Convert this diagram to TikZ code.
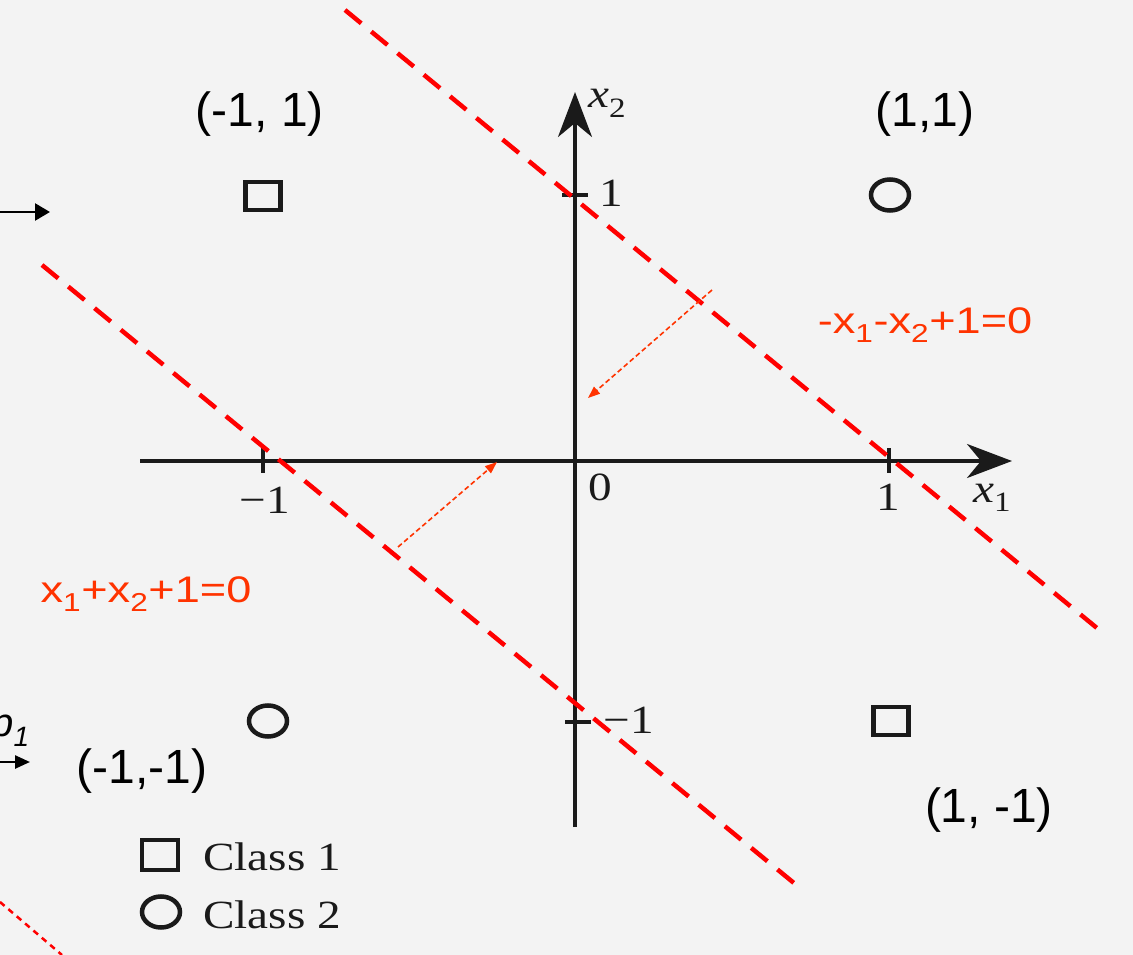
\documentclass[tikz,border=0pt]{standalone}
\usepackage{fontspec}
\setmainfont{Liberation Serif}
\newfontfamily\arialf{Liberation Sans}
\usetikzlibrary{arrows.meta,shapes.geometric}
\definecolor{eqred}{HTML}{FF3300}
\definecolor{paper}{HTML}{F3F3F3}
\definecolor{sepred}{HTML}{FF0000}
\definecolor{ink}{HTML}{1A1A1A}
\tikzset{
  axisline/.style={ink, line width=3.5pt, -{Stealth[length=45pt,width=34pt,inset=14pt]}},
  tickline/.style={ink, line width=3.5pt},
  sepline/.style={sepred, line width=4.5pt, dash pattern=on 21pt off 13pt},
  thinsep/.style={sepred, line width=2.5pt, dash pattern=on 6pt off 5pt},
  normarrow/.style={eqred, line width=1.6pt, dash pattern=on 5pt off 3pt, -{Triangle[length=12pt,width=9pt]}},
  leftarrow/.style={black, line width=2.5pt},
  sqnode/.style={draw=ink, line width=4.5pt, rectangle, minimum width=35pt, minimum height=28pt, inner sep=0pt},
  cnode/.style={draw=ink, line width=4.5pt, ellipse, minimum width=38pt, minimum height=31pt, inner sep=0pt},
  booktxt/.style={ink, font=\fontsize{40}{44}\selectfont, inner sep=0pt, anchor=base},
  lbl/.style={black, font=\arialf\fontsize{48}{52}\selectfont, inner sep=0pt, anchor=base},
  eqtxt/.style={eqred, font=\arialf\fontsize{37}{40}\selectfont, inner sep=0pt, anchor=base},
}
\newcommand{\bk}[1]{\scalebox{1.18}[1]{#1}}
\newcommand{\eqs}[1]{\scalebox{1.22}[1]{#1}}
\begin{document}
\begin{tikzpicture}[x=1pt,y=-1pt]
\useasboundingbox (0,0) rectangle (1133,955);
\fill[paper] (0,0) rectangle (1133,955);

% axes
\coordinate (xl) at (140,461);
\coordinate (xr) at (1012,461);
\coordinate (yb) at (575,827);
\coordinate (yt) at (575,92);
\draw[axisline] (xl) -- (xr);
\draw[axisline] (yb) -- (yt);

% ticks
\coordinate (tx1a) at (263,448); \coordinate (tx1b) at (263,473);
\coordinate (tx2a) at (889,448); \coordinate (tx2b) at (889,473);
\coordinate (ty1a) at (562,195); \coordinate (ty1b) at (588,195);
\coordinate (ty2a) at (565,722); \coordinate (ty2b) at (591,722);
\draw[tickline] (tx1a) -- (tx1b);
\draw[tickline] (tx2a) -- (tx2b);
\draw[tickline] (ty1a) -- (ty1b);
\draw[tickline] (ty2a) -- (ty2b);

% tick labels
\node[booktxt] (ly1) at (611,207) {\bk{1}};
\node[booktxt] (lxm1) at (265,513) {\bk{−1}};
\node[booktxt] (lx1) at (888,510) {\bk{1}};
\node[booktxt] (l0) at (600,500) {\bk{0}};
\node[booktxt] (lym1) at (629,733) {\bk{−1}};
\node[booktxt, anchor=base west] (lx) at (973,502) {\bk{\textit{x}\textsubscript{1}}};
\node[booktxt, anchor=base west] (ly) at (588,108) {\bk{\textit{x}\textsubscript{2}}};

% points
\node[sqnode] (pA) at (263,196) {};
\node[cnode] (pB) at (890,195) {};
\node[cnode] (pC) at (268,721) {};
\node[sqnode] (pD) at (891,721) {};

% legend
\node[sqnode, minimum width=36pt, minimum height=30pt] (legsq) at (160,855) {};
\node[cnode] (legc) at (161,912) {};
\node[booktxt, anchor=base west] (leg1) at (203,870) {\bk{Class 1}};
\node[booktxt, anchor=base west] (leg2) at (203,928) {\bk{Class 2}};

% separating lines
\coordinate (s1a) at (345,10); \coordinate (s1b) at (1103,633);
\coordinate (s2a) at (42,265); \coordinate (s2b) at (800,888);
\draw[sepline] (s1a) -- (s1b);
\draw[sepline] (s2a) -- (s2b);
\coordinate (s3a) at (0,902); \coordinate (s3b) at (62,955);
\draw[thinsep] (s3a) -- (s3b);

% normal arrows
\coordinate (n1a) at (712,290); \coordinate (n1b) at (588,398);
\coordinate (n2a) at (398,547); \coordinate (n2b) at (497,462);
\draw[normarrow] (n1a) -- (n1b);
\draw[normarrow] (n2a) -- (n2b);

% equations
\node[eqtxt] (eq1) at (925,333) {\eqs{-x\textsubscript{1}-x\textsubscript{2}+1=0}};
\node[eqtxt] (eq2) at (146,602) {\eqs{x\textsubscript{1}+x\textsubscript{2}+1=0}};

% coordinate labels
\node[lbl] (cA) at (260,127) {(-1, 1)};
\node[lbl] (cB) at (925,127) {(1,1)};
\node[lbl] (cC) at (142,783) {(-1,-1)};
\node[lbl] (cD) at (989,822) {(1, -1)};

% left edge remnants
\coordinate (la1) at (0,212); \coordinate (lb1) at (50,212);
\draw[leftarrow, -{Triangle[length=15pt,width=17pt]}] (la1) -- (lb1);
\coordinate (la2) at (0,762); \coordinate (lb2) at (30,762);
\draw[leftarrow, -{Triangle[length=15pt,width=13pt]}] (la2) -- (lb2);
\node[black, font=\arialf\itshape\fontsize{40}{44}\selectfont, inner sep=0pt, anchor=base east] (pl) at (30,736) {p\textsubscript{1}};
\end{tikzpicture}
\end{document}
